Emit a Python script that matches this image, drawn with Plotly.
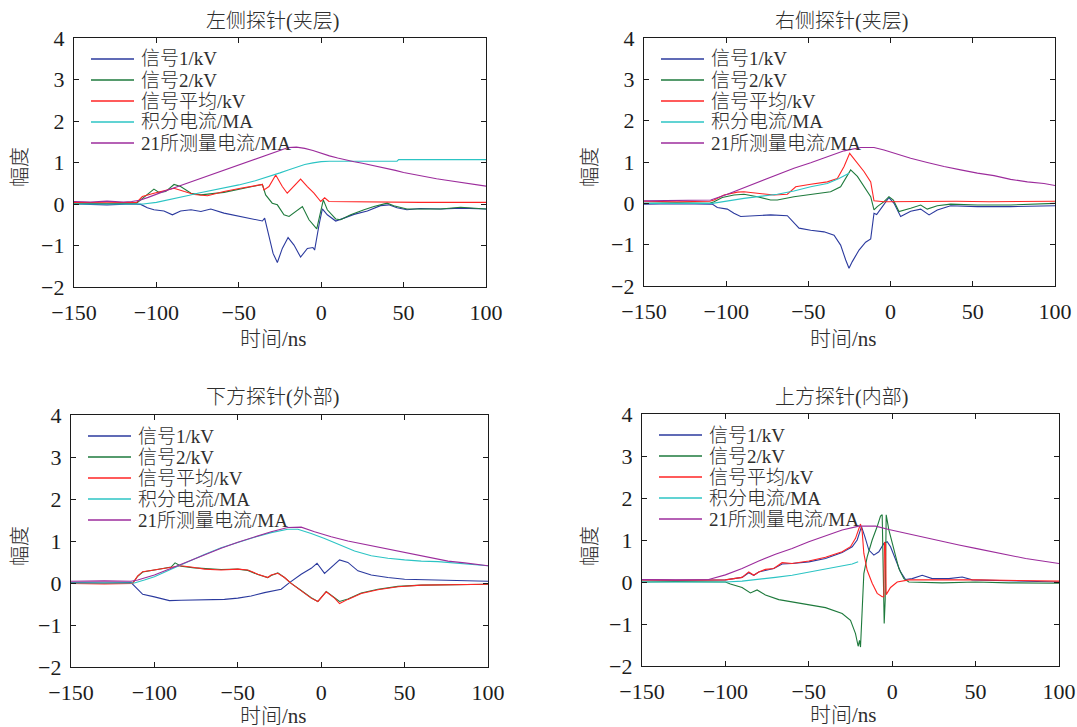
import plotly.graph_objects as go

W, H = 1077, 727

# ---------------- 左侧探针(夹层) ----------------
left_sig1_t = [-150, -130, -115, -109.5, -105.5, -101.5, -95.4, -90.3, -85.3, -79, -73, -67, -59, -49, -40.8,
               -35.7, -34.3, -31.7, -29.2, -26.6, -23.6, -20.1, -16.5, -12.5, -8.4, -5, -4, -1.3, 0.7, 3.7,
               8.8, 13.8, 19.9, 28, 36, 41, 46, 52, 60, 72.5, 85, 100]
left_sig1_v = [0.0, -0.02, 0.0, -0.01, -0.09, -0.14, -0.17, -0.26, -0.17, -0.14, -0.18, -0.12, -0.22, -0.3, -0.37,
               -0.41, -0.34, -0.75, -1.19, -1.41, -1.07, -0.81, -0.99, -1.28, -1.07, -1.05, -1.11, -0.5, -0.12, -0.26,
               -0.41, -0.34, -0.25, -0.17, -0.04, -0.02, -0.09, -0.14, -0.11, -0.12, -0.1, -0.12]
left_sig2_t = [-150, -130, -112, -108.5, -101.5, -98.4, -94.4, -89.3, -85.3, -79, -73, -59, -49, -35.7, -33.7,
               -29.7, -26.6, -22.6, -19.5, -15.5, -11.4, -7.4, -2.7, -0.3, 1.3, 3.7, 8.8, 11.8, 17.9, 26, 32,
               40, 44, 52, 72.5, 84.6, 100]
left_sig2_v = [0.02, 0.01, 0.02, 0.14, 0.36, 0.28, 0.3, 0.47, 0.42, 0.26, 0.22, 0.28, 0.36, 0.47, 0.22,
               0.02, -0.02, -0.26, -0.3, -0.17, -0.06, -0.38, -0.6, -0.18, 0.1, -0.14, -0.36, -0.38, -0.26, -0.14, -0.06,
               0.02, -0.04, -0.12, -0.12, -0.08, -0.12]
left_avg_t = [-150, -130, -112, -108.5, -101.5, -97.4, -89.3, -83, -77, -69, -59, -49, -35.7, -34.7, -31.7,
              -27.6, -23.6, -20.6, -16.5, -12.5, -8.4, -4.4, -0.3, 2.1, 4.7, 20, 40, 60, 80, 100]
left_avg_v = [0.04, 0.03, 0.04, 0.18, 0.26, 0.3, 0.38, 0.3, 0.23, 0.2, 0.3, 0.38, 0.47, 0.34, 0.42,
              0.7, 0.42, 0.26, 0.42, 0.6, 0.42, 0.26, 0.06, 0.15, 0.06, 0.05, 0.05, 0.04, 0.04, 0.04]
left_int_t = [-150, -108, -100, -90, -80, -75, -70, -60, -50, -40, -35, -30, -25, -20, -15, -10, -5, 0, 5,
              20, 46, 47, 100]
left_int_v = [0, 0, 0.04, 0.12, 0.21, 0.26, 0.3, 0.38, 0.46, 0.56, 0.62, 0.68, 0.75, 0.82, 0.89, 0.95, 0.99, 1.02, 1.03,
              1.03, 1.03, 1.07, 1.07]
left_ref_t = [-150, -140, -130, -120, -115, -110, -105, -100, -95, -90, -85, -80, -75, -70, -65, -60, -55, -50,
              -45, -40, -35, -30, -25, -20, -15, -10, -5, 0, 5, 10, 15, 20, 25, 30, 35, 40, 45, 50, 55, 60,
              65, 70, 75, 80, 85, 90, 95, 100]
left_ref_v = [0.06, 0.05, 0.07, 0.05, 0.06, 0.09, 0.16, 0.24, 0.31, 0.38, 0.45, 0.52, 0.59, 0.66, 0.73, 0.8, 0.86, 0.93,
              1.0, 1.07, 1.14, 1.22, 1.29, 1.36, 1.37, 1.34, 1.29, 1.22, 1.16, 1.11, 1.06, 1.02, 0.98, 0.94, 0.9, 0.86,
              0.81, 0.76, 0.72, 0.68, 0.64, 0.61, 0.58, 0.55, 0.52, 0.49, 0.46, 0.43]

# ---------------- 右侧探针(夹层) ----------------
right_sig1_t = [-150, -130, -108.5, -105.4, -99.3, -95.3, -91.2, -83.1, -73, -62.8, -58.8, -55.7, -48.6, -40.5,
                -34.4, -30.4, -27.3, -25.3, -23.3, -19.2, -15.2, -12.1, -10.1, -8.5, -5, -1, 2.1, 6.1, 12.2,
                18.3, 23.4, 28.4, 36.5, 52.8, 73, 100]
right_sig1_v = [-0.02, -0.01, -0.02, -0.1, -0.14, -0.24, -0.32, -0.31, -0.28, -0.3, -0.48, -0.6, -0.65, -0.69,
                -0.77, -1.01, -1.37, -1.57, -1.41, -1.13, -0.94, -0.86, -0.24, -0.27, -0.08, 0.14, 0.0, -0.32, -0.19,
                -0.14, -0.28, -0.16, -0.06, -0.08, -0.08, -0.06]
right_sig2_t = [-150, -130, -110, -107.4, -102.4, -95.3, -89.2, -81, -73, -68.9, -58.8, -48.6, -36.5, -30.4,
                -24.3, -20.2, -16.2, -12.1, -10.1, -8.1, -4, -1, 1.7, 5.1, 12.2, 18.3, 22.3, 28.4, 36.5, 52.8,
                73, 100]
right_sig2_v = [0.0, 0.01, 0.0, 0.04, 0.14, 0.2, 0.22, 0.16, 0.08, 0.08, 0.16, 0.22, 0.28, 0.4,
                0.81, 0.65, 0.4, 0.16, -0.16, -0.08, 0.04, 0.16, 0.08, -0.2, -0.12, -0.04, -0.14, -0.06, -0.02, -0.04,
                -0.04, 0.0]
right_avg_t = [-150, -130, -110, -107.4, -101.3, -93.2, -89.2, -81, -70.9, -62.8, -57.7, -48.6, -38.5, -32.4,
               -28.3, -24.9, -20.2, -16.2, -12.1, -10.1, -4, 20, 40, 60, 80, 100]
right_avg_v = [0.05, 0.04, 0.05, 0.08, 0.2, 0.27, 0.28, 0.24, 0.2, 0.22, 0.4, 0.46, 0.52, 0.6,
               0.89, 1.21, 0.97, 0.77, 0.52, 0.06, 0.04, 0.05, 0.05, 0.04, 0.05, 0.05]
right_int_t = [-150, -108.4, -89.2, -68.9, -58.8, -48.6, -38.5, -31.4, -25.3]
right_int_v = [0, 0, 0.12, 0.22, 0.3, 0.4, 0.48, 0.6, 0.73]
right_ref_t = [-150, -130, -115, -109.4, -99.3, -89.2, -79, -68.9, -58.8, -48.6, -38.5, -28.3, -18.2, -10.1, -4,
               4.1, 12.2, 22.3, 32.5, 42.6, 52.8, 62.9, 73, 83.2, 93.3, 100]
right_ref_v = [0.06, 0.07, 0.06, 0.08, 0.22, 0.38, 0.54, 0.7, 0.85, 0.98, 1.13, 1.27, 1.35, 1.35, 1.29,
               1.19, 1.09, 0.99, 0.89, 0.81, 0.73, 0.67, 0.58, 0.52, 0.48, 0.43]

# ---------------- 下方探针(外部) ----------------
lower_sig1_t = [-150, -130, -114, -110, -107, -100, -91, -84, -70, -58, -50, -42, -34, -30, -24, -19, -12, -6,
                -2.5, 2, 7, 11, 16, 22, 30, 40, 50, 70, 90, 100]
lower_sig1_v = [0.01, 0.0, 0.01, -0.15, -0.27, -0.33, -0.42, -0.41, -0.39, -0.39, -0.36, -0.31, -0.23, -0.2, -0.15,
                0.01, 0.21, 0.35, 0.47, 0.23, 0.41, 0.55, 0.49, 0.29, 0.19, 0.13, 0.09, 0.07, 0.05, 0.04]
lower_sig2_t = [-150, -130, -113, -110, -107, -100, -90, -87.6, -84, -76, -70, -60, -50, -44, -38, -32, -30, -26,
                -22, -18, -12, -6, -2, 3, 8, 11, 16, 24, 34, 46, 60, 80, 100]
lower_sig2_v = [-0.01, 0.0, 0.0, 0.16, 0.26, 0.31, 0.38, 0.48, 0.4, 0.36, 0.34, 0.32, 0.33, 0.3, 0.2, 0.13, 0.18, 0.24,
                0.13, -0.01, -0.18, -0.35, -0.44, -0.2, -0.35, -0.44, -0.38, -0.24, -0.15, -0.08, -0.05, -0.04, -0.03]
lower_avg_t = [-150, -130, -113, -110, -107, -100, -90, -84, -76, -70, -60, -50, -44, -38, -32, -30, -26, -22,
               -18, -12, -6, -2, 3, 8, 11, 16, 24, 34, 46, 60, 80, 100]
lower_avg_v = [-0.01, -0.02, -0.01, 0.17, 0.27, 0.31, 0.37, 0.41, 0.37, 0.33, 0.31, 0.33, 0.31, 0.21, 0.13, 0.19,
               0.23, 0.13, -0.01, -0.19, -0.36, -0.44, -0.21, -0.36, -0.49, -0.39, -0.25, -0.16, -0.09, -0.05,
               -0.04, -0.03]
lower_int_t = [-150, -112, -106, -100, -90, -80, -70, -60, -50, -40, -30, -20, -14, -6, 2, 10, 20, 30, 40, 50,
               60, 70, 80, 90, 100]
lower_int_v = [0.0, 0.0, 0.07, 0.15, 0.33, 0.51, 0.68, 0.84, 0.97, 1.09, 1.2, 1.28, 1.28, 1.18, 1.06, 0.92, 0.76,
               0.65, 0.59, 0.55, 0.52, 0.51, 0.48, 0.45, 0.41]
lower_ref_t = [-150, -130, -114, -110, -100, -90, -80, -70, -60, -50, -40, -30, -20, -12, -4, 6, 16, 26, 36, 46,
               56, 66, 76, 86, 100]
lower_ref_v = [0.04, 0.05, 0.04, 0.07, 0.19, 0.35, 0.51, 0.67, 0.83, 0.97, 1.1, 1.22, 1.32, 1.33, 1.22, 1.1, 1.0,
               0.92, 0.84, 0.76, 0.68, 0.6, 0.52, 0.48, 0.41]

# ---------------- 上方探针(内部) ----------------
upper_sig1_t = [-150, -130, -100, -94, -90, -86, -83, -80, -76, -71, -66, -60, -50, -40, -30, -24, -21, -18.4,
                -16.4, -14, -11, -8, -5, -3, -1, 2, 5, 8, 12, 18, 24, 34, 42, 48, 70, 100]
upper_sig1_v = [0.05, 0.04, 0.05, 0.08, 0.11, 0.22, 0.16, 0.24, 0.28, 0.32, 0.43, 0.44, 0.48, 0.56, 0.7, 0.84,
                1.0, 1.32, 1.08, 0.76, 0.64, 0.72, 0.92, 0.96, 0.84, 0.52, 0.24, 0.06, 0.08, 0.16, 0.08, 0.08, 0.12,
                0.05, 0.03, 0.0]
upper_sig2_t = [-150, -130, -100, -97, -90, -85, -81, -76, -68, -60, -50, -40, -30, -25, -22, -20.4, -19.6, -19,
                -18, -17, -15, -12, -9, -7, -6, -5.4, -4.8, -4.2, -3.6, -2, 1, 4, 7, 10, 30, 50, 70, 100]
upper_sig2_v = [0.0, 0.01, 0.0, -0.05, -0.13, -0.26, -0.19, -0.31, -0.42, -0.47, -0.53, -0.61, -0.75, -0.91, -1.23,
                -1.53, -1.39, -1.55, -0.67, 0.2, 0.6, 1.0, 1.32, 1.57, 1.6, 0.36, -0.99, -0.43, 1.6, 1.24, 0.76,
                0.32, 0.08, 0.0, -0.02, 0.0, -0.02, -0.03]
upper_avg_t = [-150, -130, -100, -94, -90, -86, -83, -80, -76, -71, -66, -60, -50, -40, -30, -25, -22, -19, -18,
               -17, -15, -12, -9, -6, -5, -4.6, -4.0, -3.6, -1, 3, 10, 30, 50, 100]
upper_avg_v = [0.05, 0.04, 0.05, 0.08, 0.11, 0.24, 0.16, 0.24, 0.3, 0.32, 0.46, 0.44, 0.5, 0.59, 0.72, 0.84, 1.04,
               1.38, 1.2, 0.68, 0.28, -0.03, -0.27, -0.35, -0.35, 0.95, 0.9, -0.3, -0.13, 0.0, 0.05, 0.05, 0.05,
               0.02]
upper_int_t = [-150, -100, -90, -80, -70, -60, -50, -40, -30, -24, -20.4]
upper_int_v = [0, 0, 0.02, 0.06, 0.11, 0.16, 0.23, 0.3, 0.38, 0.43, 0.48]
upper_ref_t = [-150, -130, -110, -100, -90, -80, -70, -60, -50, -40, -30, -20, -10, -2, 10, 20, 30, 40, 50, 60,
               70, 80, 90, 100]
upper_ref_v = [0.06, 0.05, 0.06, 0.17, 0.32, 0.5, 0.66, 0.8, 0.96, 1.1, 1.24, 1.33, 1.33, 1.25, 1.14, 1.06, 0.96,
               0.88, 0.8, 0.72, 0.64, 0.56, 0.5, 0.44]

series_names = ["信号1/kV", "信号2/kV", "信号平均/kV", "积分电流/MA", "21所测量电流/MA"]
series_colors = ["#2b3a9e", "#1e7a3c", "#ff2424", "#2cc4c4", "#9c2c9c"]

x_ticks = [-150, -100, -50, 0, 50, 100]
y_ticks = [-2, -1, 0, 1, 2, 3, 4]

panels = [
    dict(title="左侧探针(夹层)", box=(74, 38, 486, 287), title_x=272, title_y=21, xlab=(273, 339), ylab=(20, 167),
         data=[(left_sig1_t, left_sig1_v), (left_sig2_t, left_sig2_v), (left_avg_t, left_avg_v),
               (left_int_t, left_int_v), (left_ref_t, left_ref_v)]),
    dict(title="右侧探针(夹层)", box=(644, 38, 1055, 286), title_x=841, title_y=21, xlab=(843, 339), ylab=(590, 167),
         data=[(right_sig1_t, right_sig1_v), (right_sig2_t, right_sig2_v), (right_avg_t, right_avg_v),
               (right_int_t, right_int_v), (right_ref_t, right_ref_v)]),
    dict(title="下方探针(外部)", box=(71, 415, 488, 667), title_x=272, title_y=397, xlab=(273, 716), ylab=(20, 546),
         data=[(lower_sig1_t, lower_sig1_v), (lower_sig2_t, lower_sig2_v), (lower_avg_t, lower_avg_v),
               (lower_int_t, lower_int_v), (lower_ref_t, lower_ref_v)]),
    dict(title="上方探针(内部)", box=(642, 414, 1059, 666), title_x=841, title_y=397, xlab=(843, 715), ylab=(590, 546),
         data=[(upper_sig1_t, upper_sig1_v), (upper_sig2_t, upper_sig2_v), (upper_avg_t, upper_avg_v),
               (upper_int_t, upper_int_v), (upper_ref_t, upper_ref_v)]),
]

FONT = "Liberation Serif, Noto Sans CJK SC, serif"
INK = "#1c1c1c"
SOFT = "#2e2e2e"


def px(x):
    return x / W


def py(y):
    return 1 - y / H


fig = go.Figure()
annotations = []
shapes = []

for i, p in enumerate(panels, start=1):
    sfx = "" if i == 1 else str(i)
    x0, y0, x1, y1 = p["box"]
    for (t, v), name, color in zip(p["data"], series_names, series_colors):
        fig.add_trace(go.Scatter(x=t, y=v, mode="lines", name=name, showlegend=False,
                                 line=dict(color=color, width=1.1),
                                 xaxis="x" + sfx, yaxis="y" + sfx))
    axis_common = dict(showline=True, linecolor=INK, linewidth=1.2, mirror="ticks", ticks="inside",
                       ticklen=5, tickwidth=1, tickcolor=INK, showgrid=False, zeroline=False,
                       automargin=False, tickfont=dict(family=FONT, size=22, color=INK))
    fig.layout["xaxis" + sfx] = dict(domain=[px(x0), px(x1)], range=[-150, 100], tickvals=x_ticks,
                                     anchor="y" + sfx, ticklabelstandoff=5, **axis_common)
    fig.layout["yaxis" + sfx] = dict(domain=[py(y1), py(y0)], range=[-2, 4], tickvals=y_ticks,
                                     anchor="x" + sfx, ticklabelstandoff=4, **axis_common)

    # panel title and axis titles
    annotations.append(dict(text=p["title"], x=px(p["title_x"]), y=py(p["title_y"]), xref="paper", yref="paper",
                            showarrow=False, xanchor="center", yanchor="middle",
                            font=dict(family=FONT, size=20, color=SOFT, weight=300)))
    annotations.append(dict(text="时间/ns", x=px(p["xlab"][0]), y=py(p["xlab"][1]), xref="paper", yref="paper",
                            showarrow=False, xanchor="center", yanchor="middle",
                            font=dict(family=FONT, size=21, color=SOFT, weight=300)))
    annotations.append(dict(text="幅度", x=px(p["ylab"][0]), y=py(p["ylab"][1]), xref="paper", yref="paper",
                            showarrow=False, xanchor="center", yanchor="middle", textangle=-90,
                            font=dict(family=FONT, size=20, color=SOFT, weight=300)))

    # legend block in the upper-left corner of each panel
    for k, (name, color) in enumerate(zip(series_names, series_colors)):
        row_y = y0 + 21 + 21 * k
        shapes.append(dict(type="line", xref="paper", yref="paper",
                           x0=px(x0 + 17), x1=px(x0 + 60), y0=py(row_y), y1=py(row_y),
                           line=dict(color=color, width=1.3)))
        annotations.append(dict(text=name, x=px(x0 + 65), y=py(row_y), xref="paper", yref="paper",
                                showarrow=False, xanchor="left", yanchor="middle",
                                font=dict(family=FONT, size=19, color=SOFT, weight=300)))

fig.update_layout(width=W, height=H, margin=dict(l=0, r=0, t=0, b=0, pad=0, autoexpand=False),
                  paper_bgcolor="white", plot_bgcolor="white",
                  annotations=annotations, shapes=shapes, showlegend=False)

fig.write_html("out.html")
